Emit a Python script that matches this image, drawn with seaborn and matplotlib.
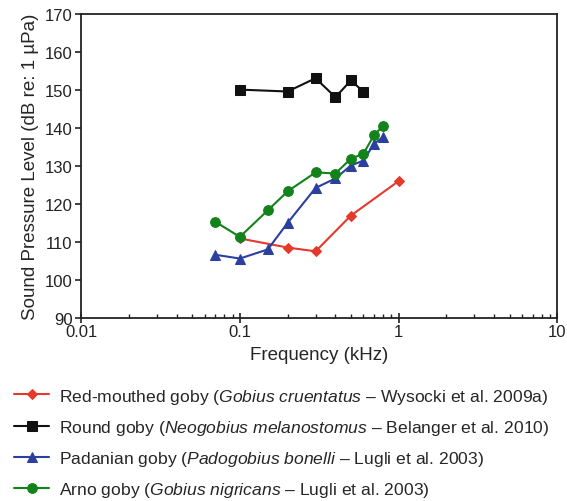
import numpy as np
import pandas as pd
import seaborn as sns
import matplotlib
matplotlib.use("Agg")
import matplotlib.pyplot as plt
from matplotlib.ticker import LogLocator, FixedLocator, FixedFormatter, NullFormatter

# audiogram thresholds
red_freq = [0.1, 0.2, 0.3, 0.5, 1.0]
red_spl = [110.9, 108.5, 107.5, 116.9, 126.0]

round_freq = [0.1, 0.2, 0.3, 0.4, 0.5, 0.6]
round_spl = [150.1, 149.6, 153.1, 148.1, 152.5, 149.6]

pad_freq = [0.07, 0.1, 0.15, 0.2, 0.3, 0.4, 0.5, 0.6, 0.7, 0.8]
pad_spl = [106.6, 105.6, 108.0, 115.0, 124.2, 126.7, 130.1, 131.4, 135.8, 137.6]

arno_freq = [0.07, 0.1, 0.15, 0.2, 0.3, 0.4, 0.5, 0.6, 0.7, 0.8]
arno_spl = [115.3, 111.3, 118.3, 123.3, 128.3, 128.0, 131.9, 133.2, 138.1, 140.6]

labels = [
    r"Red-mouthed goby ($\mathit{Gobius\ cruentatus}$ – Wysocki et al. 2009a)",
    r"Round goby ($\mathit{Neogobius\ melanostomus}$ – Belanger et al. 2010)",
    r"Padanian goby $\mathit{(Padogobius\ bonelli}$ – Lugli et al. 2003)",
    r"Arno goby ($\mathit{Gobius\ nigricans}$ – Lugli et al. 2003)",
]

sns.set_style("ticks")
plt.rcParams['font.family'] = ['Liberation Sans', 'DejaVu Sans']
plt.rcParams['mathtext.fontset'] = 'custom'
plt.rcParams['mathtext.rm'] = 'Liberation Sans'
plt.rcParams['mathtext.it'] = 'Liberation Sans:italic'

fig = plt.figure(figsize=(5.67, 5.02), dpi=100)
ax = fig.add_axes([0.143, 0.365, 0.840, 0.605])

series = [
    (red_freq, red_spl, "#e5392c", "D", 5.5),
    (round_freq, round_spl, "#111111", "s", 6.5),
    (pad_freq, pad_spl, "#2b3f9f", "^", 7),
    (arno_freq, arno_spl, "#12821a", "o", 7),
]
for (fx, fy, col, mk, ms), lab in zip(series, labels):
    d = pd.DataFrame({"freq": fx, "spl": fy})
    sns.lineplot(data=d, x="freq", y="spl", ax=ax, color=col, marker=mk,
                 markersize=ms, markeredgecolor=col, linewidth=1.5,
                 label=lab, legend=False)

ax.set_xscale("log")
ax.set_xlim(0.01, 10)
ax.set_ylim(90, 170)
ax.set_yticks(range(90, 171, 10))
ax.xaxis.set_major_locator(FixedLocator([0.01, 0.1, 1, 10]))
ax.xaxis.set_major_formatter(FixedFormatter(["0.01", "0.1", "1", "10"]))
ax.xaxis.set_minor_locator(LogLocator(base=10, subs=np.arange(2, 10)))
ax.xaxis.set_minor_formatter(NullFormatter())
ax.tick_params(axis="x", which="major", direction="inout", length=7, width=1.2,
               labelsize=12, pad=1, color="#222222", labelcolor="#222222",
               bottom=True)
ax.tick_params(axis="x", which="minor", direction="in", length=3, width=1.0,
               color="#222222", bottom=True)
ax.tick_params(axis="y", direction="out", length=4, width=1.2, labelsize=12,
               pad=2, color="#222222", labelcolor="#222222", left=True)
for s in ax.spines.values():
    s.set_visible(True)
    s.set_color("#222222")
    s.set_linewidth(1.3)

ax.set_xlabel("Frequency (kHz)", fontsize=13.5, labelpad=5)
ax.set_ylabel("Sound Pressure Level (dB re: 1 µPa)", fontsize=13.5, labelpad=4)

handles, labs = ax.get_legend_handles_labels()
fig.legend(handles, labs, loc="upper left", bbox_to_anchor=(0.025, 0.228),
           frameon=False, fontsize=12.6, handlelength=2.0, handletextpad=0.55,
           labelspacing=0.7, borderpad=0, borderaxespad=0, numpoints=1)

fig.savefig("out.png", dpi=100)
